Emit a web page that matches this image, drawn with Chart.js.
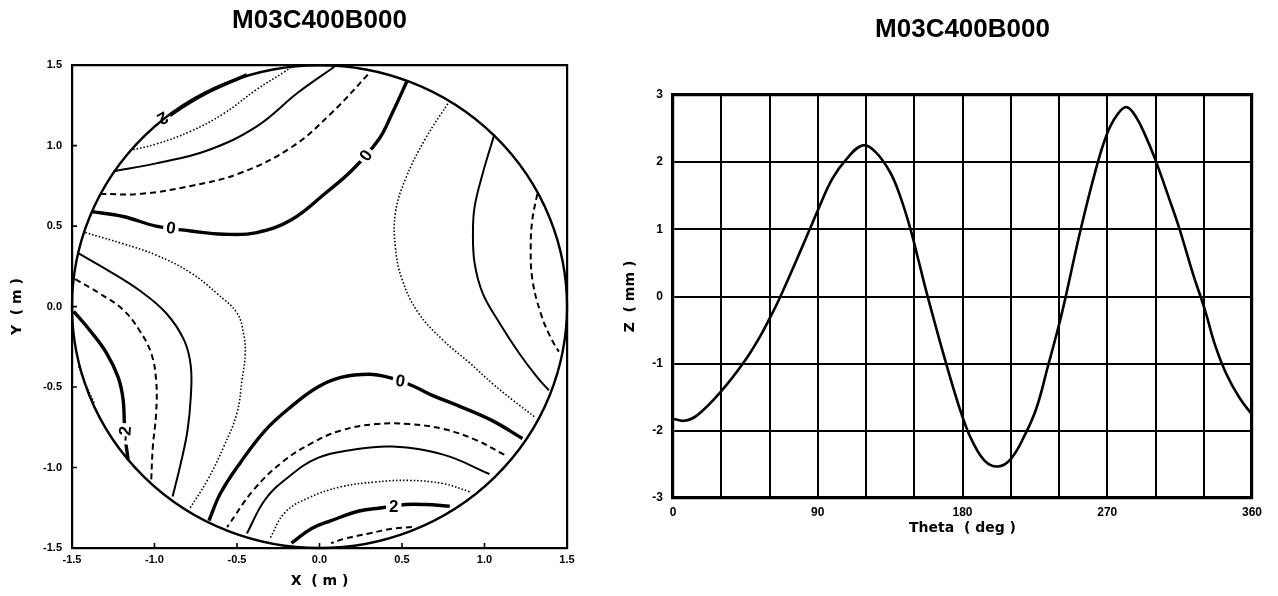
<!DOCTYPE html>
<html>
<head>
<meta charset="utf-8">
<script src="https://cdn.jsdelivr.net/npm/chart.js@4.4.1/dist/chart.umd.min.js"></script>
<style>
  html, body { margin: 0; padding: 0; background: #fff; }
  body { width: 1278px; height: 596px; position: relative; overflow: hidden; }
  #contour { position: absolute; left: 0; top: 0; }
  #profile { position: absolute; left: 600px; top: 0; }
</style>
</head>
<body>
<canvas id="contour" width="600" height="596"></canvas>
<canvas id="profile" width="678" height="596"></canvas>
<script>
const runName = 'M03C400B000';

// right panel: surface Z round the edge
const thetaDeg = [0, 7, 15, 30, 44, 54, 60, 66, 72, 80, 85, 90, 99, 108, 118, 126, 135, 141, 147, 152, 157,
  164, 169, 175, 181, 186, 194, 202, 210, 219, 226, 233, 240, 244, 253, 263, 270, 276, 282, 288, 294,
  300, 308, 315, 323, 331, 337, 344, 352, 360];
const zMm = [-1.82, -1.85, -1.77, -1.41, -0.98, -0.6, -0.33, -0.04, 0.28, 0.72, 1.0, 1.28, 1.75, 2.05, 2.25, 2.15, 1.85, 1.51, 1.06, 0.6, 0.12,
  -0.5, -0.93, -1.42, -1.86, -2.15, -2.45, -2.53, -2.42, -2.05, -1.66, -1.05, -0.42, -0.02, 0.95, 1.9, 2.43, 2.7, 2.82, 2.67, 2.38,
  2.03, 1.49, 1.0, 0.36, -0.22, -0.72, -1.15, -1.5, -1.76];
const thetaTicks = [0, 90, 180, 270, 360];

// left panel: contour lines, X / Y in metres
const apertureRadius = 1.5;
const topLeft2 = [[-0.97, 1.13], [-0.89, 1.20], [-0.68, 1.33], [-0.44, 1.44]];
const topDotted = [[-1.15, 0.97], [-0.99, 1.01], [-0.78, 1.09], [-0.58, 1.20], [-0.38, 1.35], [-0.21, 1.46], [-0.17, 1.49]];
const topSolid = [[-1.25, 0.84], [-0.99, 0.89], [-0.68, 0.97], [-0.38, 1.12], [-0.13, 1.33], [0.09, 1.49]];
const topDashed = [[-1.33, 0.70], [-1.09, 0.70], [-0.78, 0.75], [-0.48, 0.83], [-0.17, 0.99], [0.07, 1.20], [0.31, 1.46]];
const upperZero = [[-1.38, 0.59], [-1.19, 0.56], [-0.99, 0.50], [-0.78, 0.47], [-0.58, 0.45], [-0.38, 0.46], [-0.17, 0.54],
  [0.03, 0.70], [0.20, 0.85], [0.36, 1.04], [0.44, 1.20], [0.53, 1.40]];
const centreLeft = [[-1.42, 0.46], [-1.19, 0.39], [-0.99, 0.32], [-0.78, 0.21], [-0.62, 0.08], [-0.50, -0.04], [-0.46, -0.17],
  [-0.45, -0.29], [-0.47, -0.46], [-0.50, -0.66], [-0.58, -0.87], [-0.68, -1.08], [-0.79, -1.26]];
const centreRight = [[0.79, 1.28], [0.64, 1.04], [0.52, 0.79], [0.46, 0.58], [0.46, 0.37], [0.50, 0.17], [0.60, -0.04],
  [0.75, -0.21], [0.91, -0.35], [1.05, -0.48], [1.17, -0.58], [1.31, -0.69]];
const rightSolid = [[1.06, 1.07], [0.99, 0.83], [0.94, 0.62], [0.93, 0.46], [0.94, 0.27], [0.99, 0.08], [1.09, -0.10],
  [1.21, -0.29], [1.32, -0.44], [1.39, -0.52]];
const rightDashed = [[1.32, 0.70], [1.29, 0.54], [1.28, 0.37], [1.29, 0.17], [1.34, -0.04], [1.40, -0.19], [1.45, -0.28]];
const lowerZero = [[1.23, -0.82], [1.05, -0.71], [0.85, -0.62], [0.68, -0.55], [0.56, -0.49], [0.42, -0.44], [0.30, -0.42],
  [0.13, -0.44], [-0.01, -0.50], [-0.17, -0.62], [-0.33, -0.77], [-0.48, -0.97], [-0.60, -1.16], [-0.67, -1.33]];
const bottomDashed = [[1.12, -0.92], [0.95, -0.83], [0.75, -0.76], [0.54, -0.73], [0.34, -0.73], [0.13, -0.77], [-0.05, -0.85],
  [-0.23, -0.97], [-0.40, -1.14], [-0.56, -1.37]];
const bottomSolid = [[1.03, -1.04], [0.75, -0.92], [0.44, -0.87], [0.20, -0.89], [-0.01, -0.94], [-0.19, -1.06], [-0.33, -1.20], [-0.44, -1.41]];
const bottomDotted = [[0.91, -1.15], [0.75, -1.10], [0.54, -1.08], [0.34, -1.09], [0.13, -1.12], [-0.07, -1.19], [-0.21, -1.28], [-0.30, -1.44]];
const bottom2 = [[0.79, -1.24], [0.64, -1.23], [0.52, -1.23], [0.38, -1.25], [0.24, -1.27], [0.07, -1.33], [-0.05, -1.38], [-0.17, -1.47]];
const bottomEdge = [[0.56, -1.37], [0.44, -1.38], [0.30, -1.41], [0.16, -1.44], [0.07, -1.47]];
const leftSolid = [[-1.46, 0.33], [-1.29, 0.23], [-1.09, 0.10], [-0.93, -0.04], [-0.82, -0.21], [-0.78, -0.37], [-0.78, -0.56],
  [-0.80, -0.77], [-0.84, -0.97], [-0.89, -1.18]];
const leftDashed = [[-1.48, 0.17], [-1.33, 0.08], [-1.19, -0.02], [-1.09, -0.15], [-1.02, -0.29], [-0.99, -0.46], [-0.99, -0.66],
  [-1.01, -0.87], [-1.02, -1.08]];
const leftMinus2 = [[-1.49, -0.03], [-1.39, -0.15], [-1.29, -0.29], [-1.22, -0.44], [-1.19, -0.58], [-1.18, -0.79], [-1.16, -0.95]];
const leftEdge = [[-1.46, -0.37], [-1.41, -0.50], [-1.36, -0.61]];

const contourLines = [topLeft2, topDotted, topSolid, topDashed, upperZero, centreLeft, centreRight, rightSolid, rightDashed,
  lowerZero, bottomDashed, bottomSolid, bottomDotted, bottom2, bottomEdge, leftSolid, leftDashed, leftMinus2, leftEdge];
const contourLevels = [2, 1.5, 1, 0.5, 0, -0.5, -0.5, -1, -1.5, 0, 0.5, 1, 1.5, 2, 2.5, -1, -1.5, -2, -2.5];

const labelText = ['2', '0', '0', '0', '2', '-2'];
const labelX = [-0.95, -0.90, 0.28, 0.49, 0.45, -1.18];
const labelY = [1.17, 0.49, 0.94, -0.46, -1.24, -0.79];
const labelAngle = [150, 8, -55, 10, 0, -85];

const axisTicks = [-1.5, -1.0, -0.5, 0, 0.5, 1.0, 1.5];

Chart.defaults.color = '#000';
Chart.defaults.font.family = "'Liberation Sans', Arial, sans-serif";
Chart.defaults.font.weight = 'bold';

const titleFont = { size: 26, weight: 'bold', lineHeight: 1.2 };
const axisTitleFont = { family: "'DejaVu Sans', sans-serif", size: 14, weight: 'bold', lineHeight: 1.2 };

// level -> line style (thick, dashed, thin, dotted repeating every 0.5)
function levelStyle(level) {
  const k = ((Math.round(level * 2) % 4) + 4) % 4;
  if (k === 0) return { borderWidth: 3.4, borderDash: [] };
  if (k === 1) return { borderWidth: 2, borderDash: [6, 4] };
  if (k === 2) return { borderWidth: 2, borderDash: [] };
  return { borderWidth: 1.6, borderDash: [1.5, 2] };
}

const fixSize = (w, h) => scale => {
  if (w !== null) scale.width = w;
  if (h !== null) scale.height = h;
};

const contourDecor = {
  id: 'contourDecor',
  afterDatasetsDraw(chart) {
    const { ctx, chartArea } = chart;
    const xs = chart.scales.x, ys = chart.scales.y;
    ctx.save();
    // labels sitting on the lines
    ctx.font = "bold 17px 'Liberation Sans', Arial, sans-serif";
    ctx.textAlign = 'center';
    ctx.textBaseline = 'middle';
    labelText.forEach((t, i) => {
      const px = xs.getPixelForValue(labelX[i]);
      const py = ys.getPixelForValue(labelY[i]);
      const w = ctx.measureText(t).width + 6;
      ctx.save();
      ctx.translate(px, py);
      ctx.rotate(labelAngle[i] * Math.PI / 180);
      ctx.fillStyle = '#fff';
      ctx.fillRect(-w / 2, -8, w, 16);
      ctx.fillStyle = '#000';
      ctx.fillText(t, 0, 1);
      ctx.restore();
    });
    // aperture outline
    const cx = xs.getPixelForValue(0), cy = ys.getPixelForValue(0);
    const rx = Math.abs(xs.getPixelForValue(apertureRadius) - cx);
    const ry = Math.abs(ys.getPixelForValue(apertureRadius) - cy);
    ctx.beginPath();
    ctx.ellipse(cx, cy, rx, ry, 0, 0, Math.PI * 2);
    ctx.lineWidth = 2.4;
    ctx.strokeStyle = '#000';
    ctx.stroke();
    // short inward tick marks
    ctx.lineWidth = 1.6;
    ctx.beginPath();
    axisTicks.forEach(v => {
      const px = xs.getPixelForValue(v);
      ctx.moveTo(px, chartArea.bottom);
      ctx.lineTo(px, chartArea.bottom - 5);
      const py = ys.getPixelForValue(v);
      ctx.moveTo(chartArea.left, py);
      ctx.lineTo(chartArea.left + 5, py);
    });
    ctx.stroke();
    ctx.restore();
  }
};

new Chart(document.getElementById('contour'), {
  type: 'scatter',
  data: {
    datasets: contourLines.map((pts, i) => Object.assign({
      data: pts.map(p => ({ x: p[0], y: p[1] })),
      showLine: true,
      borderColor: '#000',
      pointRadius: 0,
      tension: 0.4,
      fill: false
    }, levelStyle(contourLevels[i])))
  },
  options: {
    responsive: false,
    animation: false,
    layout: { padding: { left: 0, right: 33, top: 0, bottom: 0 } },
    plugins: {
      legend: { display: false },
      tooltip: { enabled: false },
      title: { display: true, text: runName, fullSize: false, font: titleFont, padding: { top: 5, bottom: 29 } }
    },
    scales: {
      x: {
        type: 'linear', position: 'bottom', min: -1.5, max: 1.5,
        afterFit: fixSize(null, 48),
        grid: { display: false, drawTicks: false },
        border: { color: '#000', width: 2.2 },
        ticks: { stepSize: 0.5, padding: 5, maxRotation: 0, font: { size: 11 }, callback: v => v.toFixed(1) },
        title: { display: true, text: 'X  ( m )', font: axisTitleFont, padding: { top: 0, bottom: 6.6 } }
      },
      y: {
        type: 'linear', position: 'left', min: -1.5, max: 1.5,
        afterFit: fixSize(72, null),
        grid: { display: false, drawTicks: false },
        border: { color: '#000', width: 2.2 },
        ticks: { stepSize: 0.5, padding: 10, font: { size: 11 }, callback: v => v.toFixed(1) },
        title: { display: true, text: 'Y  ( m )', font: axisTitleFont, padding: { top: 8.6, bottom: 0 } }
      },
      xTop: {
        type: 'linear', position: 'top', min: -1.5, max: 1.5,
        afterFit: fixSize(null, 0),
        grid: { display: false, drawTicks: false },
        border: { color: '#000', width: 2.2 },
        ticks: { display: false }
      },
      yRight: {
        type: 'linear', position: 'right', min: -1.5, max: 1.5,
        afterFit: fixSize(0, null),
        grid: { display: false, drawTicks: false },
        border: { color: '#000', width: 2.2 },
        ticks: { display: false }
      }
    }
  },
  plugins: [contourDecor]
});

new Chart(document.getElementById('profile'), {
  type: 'line',
  data: {
    datasets: [{
      data: thetaDeg.map((t, i) => ({ x: t, y: zMm[i] })),
      borderColor: '#000',
      borderWidth: 2.6,
      pointRadius: 0,
      tension: 0.4,
      fill: false
    }]
  },
  options: {
    responsive: false,
    animation: false,
    layout: { padding: { left: 0, right: 26, top: 0, bottom: 0 } },
    plugins: {
      legend: { display: false },
      tooltip: { enabled: false },
      title: { display: true, text: runName, fullSize: false, font: titleFont, padding: { top: 14.4, bottom: 49.4 } }
    },
    scales: {
      x: {
        type: 'linear', position: 'bottom', min: 0, max: 360,
        afterFit: fixSize(null, 98),
        grid: { color: '#000', lineWidth: 2, drawTicks: false },
        border: { color: '#000', width: 3.2 },
        ticks: {
          stepSize: 30, padding: 7, autoSkip: false, maxRotation: 0, font: { size: 12 },
          callback: v => thetaTicks.includes(v) ? String(v) : ''
        },
        title: { display: true, text: 'Theta  ( deg )', font: axisTitleFont, padding: { top: 0, bottom: 59.6 } }
      },
      y: {
        type: 'linear', position: 'left', min: -3, max: 3,
        afterFit: fixSize(73, null),
        grid: { color: '#000', lineWidth: 2, drawTicks: false },
        border: { color: '#000', width: 3.2 },
        ticks: { stepSize: 1, padding: 10, font: { size: 12 } },
        title: { display: true, text: 'Z  ( mm )', font: axisTitleFont, padding: { top: 21.6, bottom: 0 } }
      },
      xTop: {
        type: 'linear', position: 'top', min: 0, max: 360,
        afterFit: fixSize(null, 0),
        grid: { display: false, drawTicks: false },
        border: { color: '#000', width: 3.2 },
        ticks: { display: false }
      },
      yRight: {
        type: 'linear', position: 'right', min: -3, max: 3,
        afterFit: fixSize(0, null),
        grid: { display: false, drawTicks: false },
        border: { color: '#000', width: 3.2 },
        ticks: { display: false }
      }
    }
  }
});
</script>
</body>
</html>
